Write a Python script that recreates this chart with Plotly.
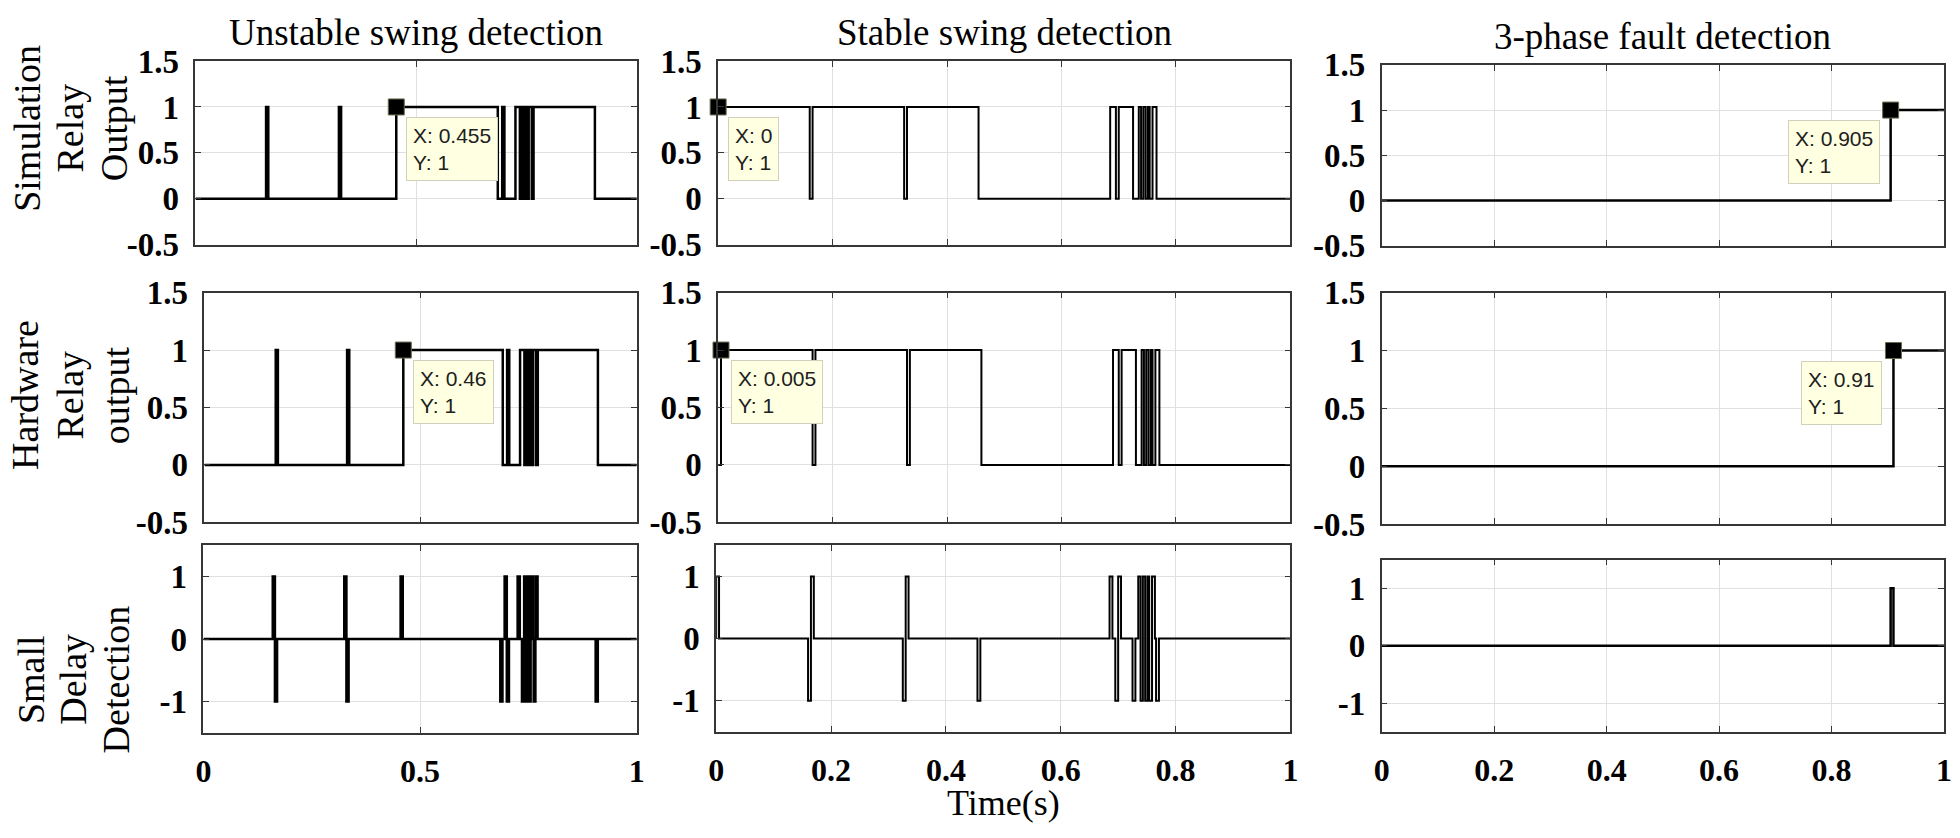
import plotly.graph_objects as go

W, H = 1960, 838

# ---------------- data ----------------
col_titles = ["Unstable swing detection", "Stable swing detection", "3-phase fault detection"]
row_titles = [["Simulation", "Relay", "Output"], ["Hardware", "Relay", "output"], ["Small", "Delay", "Detection"]]
x_axis_title = "Time(s)"

# relay outputs: initial level and the times at which the level toggles
unstable_sim_init = 0
unstable_sim_toggles = [0.160, 0.165, 0.325, 0.330, 0.455, 0.685, 0.695, 0.700, 0.725, 0.735,
                        0.740, 0.744, 0.748, 0.751, 0.755, 0.762, 0.766, 0.905]
unstable_hw_init = 0
unstable_hw_toggles = [0.165, 0.170, 0.330, 0.335, 0.460, 0.690, 0.700, 0.705, 0.730, 0.740,
                       0.745, 0.749, 0.753, 0.756, 0.760, 0.767, 0.771, 0.910]

stable_sim_init = 1
stable_sim_toggles = [0.160, 0.165, 0.325, 0.330, 0.455, 0.685, 0.695, 0.700, 0.725, 0.735,
                      0.739, 0.743, 0.747, 0.751, 0.754, 0.759, 0.766]
stable_hw_init = 0
stable_hw_toggles = [0.005, 0.165, 0.170, 0.330, 0.335, 0.460, 0.690, 0.700, 0.705, 0.730, 0.740,
                     0.744, 0.748, 0.752, 0.756, 0.759, 0.764, 0.771]

fault_sim_init = 0
fault_sim_toggles = [0.905]
fault_hw_init = 0
fault_hw_toggles = [0.910]

# small-delay detection: spike start times and their signs
unstable_delay_times = [0.160, 0.165, 0.325, 0.330, 0.455, 0.685, 0.695, 0.700, 0.725, 0.735,
                        0.740, 0.744, 0.748, 0.751, 0.755, 0.762, 0.766, 0.905]
unstable_delay_signs = [1, -1, 1, -1, 1, -1, 1, -1, 1, -1, 1, -1, 1, -1, 1, -1, 1, -1]
stable_delay_times = [0.000, 0.160, 0.165, 0.325, 0.330, 0.455, 0.685, 0.695, 0.700, 0.725,
                      0.735, 0.739, 0.743, 0.747, 0.751, 0.754, 0.759, 0.766]
stable_delay_signs = [1, -1, 1, -1, 1, -1, 1, -1, 1, -1, 1, -1, 1, -1, 1, -1, 1, -1]
fault_delay_times = [0.905]
fault_delay_signs = [1]
delay_spike_width = 0.005

# data tips (x, y) for rows 1 and 2
datatip_x = [[0.455, 0.0, 0.905], [0.46, 0.005, 0.91]]
datatip_y = [[1, 1, 1], [1, 1, 1]]
datatip_xlabels = [["0.455", "0", "0.905"], ["0.46", "0.005", "0.91"]]

x_ticks_col1 = [0, 0.5, 1]
x_ticks_col1_text = ["0", "0.5", "1"]
x_ticks_other = [0, 0.2, 0.4, 0.6, 0.8, 1]
x_ticks_other_text = ["0", "0.2", "0.4", "0.6", "0.8", "1"]
y_ticks_relay = [-0.5, 0, 0.5, 1, 1.5]
y_ticks_relay_text = ["-0.5", "0", "0.5", "1", "1.5"]
y_ticks_delay = [-1, 0, 1]
y_ticks_delay_text = ["-1", "0", "1"]

# ---------------- layout geometry (pixels) ----------------
# (left, right, top, bottom) for each panel [row][col]
boxes = [
    [(189, 634, 46, 238), (716, 1293, 46, 238), (1385, 1952, 50, 239)],
    [(198, 634, 288, 528), (716, 1293, 288, 528), (1385, 1952, 288, 530)],
    [(197, 634, 552, 748), (714, 1293, 552, 747), (1385, 1952, 567, 747)],
]


def px(x):
    return x / W


def py(y):
    return 1 - y / H


def step_xy(init, toggles):
    xs, ys, v = [0.0], [init], init
    for t in toggles:
        v = 1 - v
        xs.append(t)
        ys.append(v)
    xs.append(1.0)
    ys.append(v)
    return xs, ys


def spikes_xy(times, signs, width):
    xs, ys = [0.0], [0]
    for i, (t, s) in enumerate(zip(times, signs)):
        end = t + width
        if i + 1 < len(times):
            end = min(end, times[i + 1])
        xs += [t, end]
        ys += [s, 0]
    xs.append(1.0)
    ys.append(0)
    return xs, ys


series = [
    [step_xy(unstable_sim_init, unstable_sim_toggles), step_xy(stable_sim_init, stable_sim_toggles),
     step_xy(fault_sim_init, fault_sim_toggles)],
    [step_xy(unstable_hw_init, unstable_hw_toggles), step_xy(stable_hw_init, stable_hw_toggles),
     step_xy(fault_hw_init, fault_hw_toggles)],
    [spikes_xy(unstable_delay_times, unstable_delay_signs, delay_spike_width),
     spikes_xy(stable_delay_times, stable_delay_signs, delay_spike_width),
     spikes_xy(fault_delay_times, fault_delay_signs, delay_spike_width)],
]

fig = go.Figure()
axis_color = "#363636"
grid_color = "#e0e0e0"
tick_font = dict(family="Liberation Serif", size=33, color="black", weight="bold")
xtick_font = dict(family="Liberation Serif", size=32, color="black", weight="bold")
serif = "Liberation Serif"

annotations = []
layout_axes = {}
for r in range(3):
    for c in range(3):
        i = r * 3 + c + 1
        xs, ys = series[r][c]
        lw = 2.0 if c == 1 else 2.5
        fig.add_trace(go.Scatter(x=xs, y=ys, mode="lines", line=dict(color="black", width=lw, shape="hv"),
                                 xaxis=f"x{i}", yaxis=f"y{i}", showlegend=False, hoverinfo="skip"))
        l, rt, t, b = boxes[r][c]
        xname = "xaxis" if i == 1 else f"xaxis{i}"
        yname = "yaxis" if i == 1 else f"yaxis{i}"
        common = dict(showline=True, linecolor=axis_color, linewidth=1.6, mirror="ticks",
                      ticks="inside", ticklen=6, tickwidth=1.2, tickcolor=axis_color,
                      showgrid=True, gridcolor=grid_color, gridwidth=1, zeroline=False,
                      fixedrange=True)
        layout_axes[xname] = dict(
            common, domain=[px(l), px(rt)], range=[0, 1], anchor=f"y{i}",
            tickmode="array", tickfont=xtick_font,
            tickvals=x_ticks_col1 if c == 0 else x_ticks_other,
            ticktext=x_ticks_col1_text if c == 0 else x_ticks_other_text,
            showticklabels=(r == 2), ticklabelstandoff=9)
        layout_axes[yname] = dict(
            common, domain=[py(b), py(t)],
            range=[-1.5, 1.5] if r == 2 else [-0.5, 1.5], anchor=f"x{i}",
            tickmode="array", tickfont=tick_font,
            tickvals=y_ticks_delay if r == 2 else y_ticks_relay,
            ticktext=y_ticks_delay_text if r == 2 else y_ticks_relay_text,
            ticklabelstandoff=8)

        if r < 2:
            dx, dy = datatip_x[r][c], datatip_y[r][c]
            fig.add_trace(go.Scatter(x=[dx], y=[dy], mode="markers",
                                     marker=dict(symbol="square", size=16, color="black",
                                                 line=dict(color="#6b6b50", width=1)),
                                     xaxis=f"x{i}", yaxis=f"y{i}", showlegend=False,
                                     hoverinfo="skip", cliponaxis=False))
            right_side = (c == 2)
            annotations.append(dict(
                x=dx, y=dy, xref=f"x{i}", yref=f"y{i}", showarrow=False,
                text=f"X: {datatip_xlabels[r][c]}<br>Y: {dy}", align="left",
                xanchor="right" if right_side else "left", yanchor="top",
                xshift=-11 if right_side else 10, yshift=-10,
                bgcolor="#ffffe1", bordercolor="#d0d0bc", borderwidth=1, borderpad=6,
                font=dict(family="Liberation Sans", size=21, color="#202020")))

# column titles
col_title_y = [16, 16, 20]
for c in range(3):
    l, rt, t, b = boxes[0][c]
    annotations.append(dict(x=px((l + rt) / 2), y=py(col_title_y[c]), xref="paper", yref="paper",
                            text=col_titles[c], showarrow=False, xanchor="center", yanchor="middle",
                            font=dict(family=serif, size=37, color="black")))

# row titles (rotated, one annotation per line)
row_title_y = [116, 395, 692]
row_line_x = [[19, 63, 107], [17, 63, 109], [23, 66, 109]]
for r in range(3):
    for k, word in enumerate(row_titles[r]):
        annotations.append(dict(x=px(row_line_x[r][k]), y=py(row_title_y[r]), xref="paper", yref="paper",
                                text=word, showarrow=False, textangle=-90,
                                xanchor="center", yanchor="middle",
                                font=dict(family=serif, size=38, color="black")))

# x-axis title
annotations.append(dict(x=px(1004), y=py(798), xref="paper", yref="paper", text=x_axis_title,
                        showarrow=False, xanchor="center", yanchor="top",
                        font=dict(family=serif, size=36, color="black")))

fig.update_layout(width=W, height=H, autosize=False, margin=dict(l=0, r=0, t=0, b=0),
                  paper_bgcolor="white", plot_bgcolor="white", showlegend=False,
                  annotations=annotations, **layout_axes)

fig.write_html("out.html", config={"displayModeBar": False},
               post_script="document.body.style.margin='0';document.body.style.overflow='hidden';")
